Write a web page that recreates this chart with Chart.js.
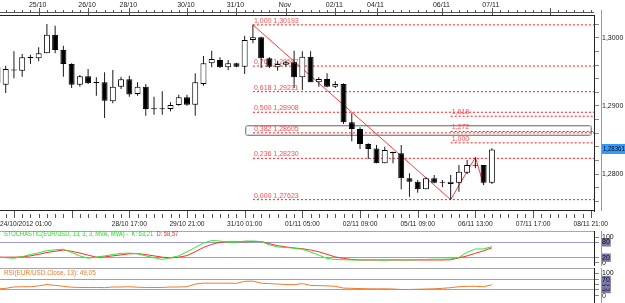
<!DOCTYPE html>
<html><head><meta charset="utf-8">
<script src="https://cdn.jsdelivr.net/npm/chart.js@4.4.0/dist/chart.umd.min.js"></script>
<style>
html,body{margin:0;padding:0;background:#fff;overflow:hidden;}
#wrap{position:relative;width:625px;height:303px;background:#fff;}
.cv{position:absolute;left:0;width:625px;}
</style></head><body>
<div id="wrap">
<div class="cv" style="top:0;height:230px"><canvas id="main"></canvas></div>
<div class="cv" style="top:230px;height:40px"><canvas id="stoch"></canvas></div>
<div class="cv" style="top:266px;height:37px"><canvas id="rsi"></canvas></div>
</div>
<script>
// ---------- DATA ----------
const candleIdx = [-1,0,1,2,3,4,5,6,7,8,9,10,11,12,13,14,15,16,17,18,19,20,21,22,23,24,25,26,27,28,29,
  30,31,32,33,34,35,36,37,38,39,40,41,42,43,44,45,46,47,48,49,50,51,52,53,54,55,56,57,58,59];
const opens = [1.29570,
 1.29313,1.29537,1.29519,1.29725,1.29701,1.29775,1.30049,1.29824,1.29618,1.29313,
 1.29437,1.29349,1.29349,1.29069,1.29284,1.29393,1.29176,1.29284,1.28956,1.28951,
 1.28956,1.29015,1.29128,1.29019,1.29324,1.29628,1.29676,1.29569,1.29628,1.29578,
 1.29971,1.30010,1.29701,1.29569,1.29607,1.29643,1.29422,1.29725,1.29349,1.29397,
 1.29284,1.29324,1.28760,1.28662,1.28441,1.28375,1.28157,1.28328,1.28304,1.27937,
 1.27887,1.27775,1.27937,1.27878,1.27853,1.27872,1.28019,1.28132,1.28132,1.27872];
const highs = [1.29868,
 1.29593,1.29804,1.29765,1.29754,1.29863,1.30206,1.30181,1.29887,1.29628,1.29456,
 1.29544,1.29422,1.29496,1.29529,1.29431,1.29446,1.29349,1.29324,1.29137,1.29216,
 1.29054,1.29166,1.29166,1.29481,1.29735,1.29813,1.29716,1.29676,1.29637,1.30034,
 1.30193,1.30019,1.29716,1.29666,1.29666,1.29813,1.29804,1.29804,1.29422,1.29481,
 1.29363,1.29334,1.28893,1.28687,1.28451,1.28426,1.28401,1.28328,1.28426,1.28010,
 1.27912,1.27951,1.27985,1.27912,1.27985,1.28132,1.28206,1.28246,1.28132,1.28378];
const lows = [1.29324,
 1.29191,1.29407,1.29431,1.29618,1.29657,1.29775,1.29775,1.29431,1.29265,1.29284,
 1.29324,1.29151,1.28824,1.29040,1.29250,1.29137,1.29151,1.28857,1.28872,1.28872,
 1.28922,1.29004,1.29004,1.28857,1.29299,1.29569,1.29559,1.29529,1.29569,1.29471,
 1.29922,1.29559,1.29559,1.29519,1.29578,1.29265,1.29235,1.29349,1.29284,1.29275,
 1.29265,1.28735,1.28481,1.28368,1.28221,1.28157,1.28157,1.28157,1.27775,1.27666,
 1.27725,1.27775,1.27863,1.27804,1.27623,1.27740,1.28000,1.28084,1.27838,1.27853];
const closes = [1.29340,
 1.29544,1.29522,1.29716,1.29701,1.29775,1.30049,1.29824,1.29618,1.29313,1.29437,
 1.29334,1.29338,1.29078,1.29284,1.29393,1.29169,1.29284,1.28956,1.28951,1.28956,
 1.29015,1.29128,1.29019,1.29349,1.29628,1.29691,1.29569,1.29628,1.29578,1.29971,
 1.30010,1.29701,1.29578,1.29618,1.29643,1.29422,1.29725,1.29349,1.29397,1.29284,
 1.29324,1.28760,1.28662,1.28441,1.28368,1.28157,1.28353,1.28304,1.27937,1.27887,
 1.27775,1.27937,1.27872,1.27872,1.27887,1.28034,1.28132,1.28122,1.27872,1.28361];

const stochK = [22,
 20,18,24,32,39,47,51,53,40,27,
 18,22,27,32,37,38,35,27,20,13,
 20,27,43,60,77,87,85,80,80,85,
 85,83,70,62,60,57,53,42,30,17,
 13,12,11,11,12,11,10,12,11,11,
 12,13,14,14,15,21,41,54,54,63.21];
const stochD = [22,
 22,22,23,27,33,40,45,50,45,38,
 30,22,23,27,31,35,36,32,27,22,
 19,22,28,43,60,72,80,82,82,82,
 83,83,75,67,62,58,55,50,43,33,
 23,17,13,11,11,11,11,11,11,11,
 11,11,11,11,12,19,27,37,47,58.57];
const rsi = [30,
 33,39,40,40,44,50,46,42,38,37,
 37,37,36,39,39,40,38,37,37,37,
 39,39,40,52,56,56,56,56,55,64,
 65,56,54,52,50,49,54,46,45,44,
 42,34,33,32,31,31,31,30,28,28,
 29,30,31,33,36,40,42,42,40,49.05];

// Fibonacci retracement
const fibStartIdx = 30;
const fibRatios = [1.000, 0.764, 0.618, 0.500, 0.382, 0.236, 0.000];
const fibPrices = [1.30193, 1.29587, 1.29211, 1.28908, 1.28605, 1.28230, 1.27623];
// Extension levels
const extStartIdx = 54;
const extRatios = [1.618, 1.272, 1.000];
const extPrices = [1.28850, 1.28625, 1.28458];
// zigzag
const zigIdx = [30, 54, 57, 58];
const zigPrices = [1.30193, 1.27623, 1.28246, 1.27838];
// selection box around the 0.382 level
const boxIdx = [29.05, 71.0];
const boxPrices = [1.28716, 1.28563];

// price axis
const yTickVals = [1.276,1.278,1.280,1.282,1.284,1.286,1.288,1.290,1.292,1.294,1.296,1.298,1.300,1.302];
const yLabelVals = [1.280, 1.290, 1.300];
const yLabels = ['1,2800', '1,2900', '1,3000'];
const lastPrice = 1.28361;
const lastPriceLabel = '1,28361';

// time axes
const topTickIdx = [4, 10, 15, 22, 28, 34, 40, 45, 53, 59, 66];
const topLabels = ['25/10','26/10','28/10','30/10','31/10','Nov','02/11','04/11','06/11','07/11',''];
const botTickIdx = [1, 8, 15, 22, 29, 36, 43, 50, 57, 64, 71];
const botLabels = ['24/10/2012 01:00','','28/10 17:00','29/10 21:00','31/10 01:00','01/11 05:00','02/11 09:00','05/11 09:00','06/11 13:00','07/11 17:00','08/11 21:00'];

const stochTicks = [0, 20, 80, 100];
const stochBoxed = [20, 80];
const rsiTicks = [0, 30, 50, 70, 100];
const rsiBoxed = [30, 50, 70];
const rsiLines = [30, 70];

// ---------- SETUP ----------
const FONT = 'Liberation Sans';
Chart.defaults.font.family = FONT;
Chart.defaults.font.size = 7;
Chart.defaults.color = '#222';
Chart.defaults.animation = false;
Chart.defaults.events = [];
Chart.defaults.plugins.legend.display = false;
Chart.defaults.plugins.tooltip.enabled = false;

const X_MIN = -0.692, X_MAX = 71.395;
const X_END = 72;
const xOpts = () => ({type:'linear', min:X_MIN, max:X_MAX, display:false, offset:false, grid:{offset:false}});
const fmt = (v, d) => v.toFixed(d).replace('.', ',');
// draw text horizontally condensed by factor sx, returns drawn width
function condensed(ctx, s, x, y, sx){
  ctx.save(); ctx.translate(x, y); ctx.scale(sx, 1); ctx.fillText(s, 0, 0); ctx.restore();
  return ctx.measureText(s).width * sx;
}

// ---------- MAIN ----------
const datasets = [];
datasets.push({
  type:'bar', label:'body', order:1,
  data: candleIdx.map((x,i)=>({x, y:[opens[i], closes[i]]})),
  backgroundColor: candleIdx.map((x,i)=> closes[i] >= opens[i] ? '#ffffff' : '#000000'),
  borderColor:'#000', borderWidth:1, borderSkipped:false, barThickness:6, grouped:false,
  inflateAmount:0, minBarLength:1
});
datasets.push({
  type:'bar', label:'wick', order:2,
  data: candleIdx.map((x,i)=>({x, y:[lows[i], highs[i]]})),
  backgroundColor:'#1a1a1a', borderWidth:0, barThickness:1, grouped:false, inflateAmount:0
});
fibPrices.forEach((p)=>{
  datasets.push({type:'line', order:5, data:[{x:fibStartIdx,y:p},{x:X_END,y:p}],
    borderColor:'#ff1a1a', borderWidth:1, borderDash:[2,2], pointRadius:0});
});
extPrices.forEach((p)=>{
  datasets.push({type:'line', order:5, data:[{x:extStartIdx,y:p},{x:X_END,y:p}],
    borderColor:'#ff1a1a', borderWidth:1, borderDash:[2,2], pointRadius:0});
});
datasets.push({type:'line', order:4, data: zigIdx.map((x,i)=>({x, y:zigPrices[i]})),
  borderColor:'rgba(255,40,40,0.9)', borderWidth:1, pointRadius:0, tension:0});

const mainDecor = {
  id:'mainDecor',
  beforeDatasetsDraw(chart){
    const {ctx, scales:{x, y}} = chart;
    ctx.save();
    // selection box
    const bx0 = x.getPixelForValue(boxIdx[0]), bx1 = x.getPixelForValue(boxIdx[1]);
    const by0 = y.getPixelForValue(boxPrices[0]), by1 = y.getPixelForValue(boxPrices[1]);
    ctx.lineWidth = 1;
    ctx.strokeStyle = '#8c8c8c';
    ctx.beginPath(); ctx.roundRect(Math.round(bx0)+0.5, Math.round(by0)+0.5, Math.round(bx1-bx0), Math.round(by1-by0), 2); ctx.stroke();
    ctx.strokeStyle = '#d4d4d4';
    ctx.beginPath(); ctx.rect(Math.round(bx0)+1.5, Math.round(by0)+1.5, Math.round(bx1-bx0)-2, Math.round(by1-by0)-2); ctx.stroke();
    // fib labels
    ctx.font = '7px ' + FONT;
    ctx.fillStyle = '#ff4d4d';
    ctx.textAlign = 'left'; ctx.textBaseline = 'alphabetic';
    const fx = x.getPixelForValue(fibStartIdx);
    fibPrices.forEach((p,i)=>{
      ctx.fillText(fmt(fibRatios[i],3) + ' ' + fmt(p,5), fx + 1, y.getPixelForValue(p) - 2);
    });
    const ex = x.getPixelForValue(extStartIdx);
    extPrices.forEach((p,i)=>{
      ctx.fillText(fmt(extRatios[i],3), ex + 1, y.getPixelForValue(p) - 2);
    });
    ctx.restore();
  },
  afterDraw(chart){
    const {ctx, chartArea:a, scales:{x, y}} = chart;
    ctx.save();
    ctx.lineWidth = 1;
    // frame
    ctx.strokeStyle = '#222';
    ctx.beginPath();
    ctx.moveTo(0, a.top + 0.5); ctx.lineTo(a.right + 0.5, a.top + 0.5);
    ctx.lineTo(a.right + 0.5, a.bottom - 0.5); ctx.lineTo(0, a.bottom - 0.5);
    ctx.stroke();
    // second axis line
    ctx.strokeStyle = '#9a9a9a';
    ctx.beginPath(); ctx.moveTo(601.5, 10); ctx.lineTo(601.5, a.bottom); ctx.stroke();
    // top time strip
    ctx.strokeStyle = '#555';
    ctx.beginPath(); ctx.moveTo(0, 12.5); ctx.lineTo(a.right, 12.5); ctx.stroke();
    ctx.beginPath();
    for (let i = Math.ceil(X_MIN); i <= Math.floor(X_MAX); i++) {
      const px = Math.round(x.getPixelForValue(i)) + 0.5;
      ctx.moveTo(px, 10); ctx.lineTo(px, 12.5);
    }
    ctx.stroke();
    ctx.beginPath();
    topTickIdx.forEach(t => { const px = Math.round(x.getPixelForValue(t)) + 0.5; ctx.moveTo(px, 8); ctx.lineTo(px, 15); });
    ctx.stroke();
    ctx.font = '7px ' + FONT; ctx.fillStyle = '#222'; ctx.textBaseline = 'middle'; ctx.textAlign = 'center';
    topTickIdx.forEach((t,i) => { if (topLabels[i]) ctx.fillText(topLabels[i], x.getPixelForValue(t) - 1, 5); });
    // bottom time strip
    ctx.strokeStyle = '#555';
    ctx.beginPath();
    for (let i = Math.ceil(X_MIN); i <= Math.floor(X_MAX); i++) {
      const px = Math.round(x.getPixelForValue(i)) + 0.5;
      ctx.moveTo(px, 214); ctx.lineTo(px, 218);
    }
    botTickIdx.forEach(t => { const px = Math.round(x.getPixelForValue(t)) + 0.5; ctx.moveTo(px, 211); ctx.lineTo(px, 218); });
    ctx.stroke();
    ctx.textAlign = 'left';
    const bsx = 0.95;
    botTickIdx.forEach((t,i) => {
      const s = botLabels[i]; if (!s) return;
      const w = ctx.measureText(s).width * bsx;
      const px = Math.max(0, x.getPixelForValue(t) - w/2);
      condensed(ctx, s, px, 224, bsx);
    });
    // last price label
    const py = y.getPixelForValue(lastPrice);
    ctx.fillStyle = '#3399ff';
    ctx.fillRect(602, Math.round(py) - 5, 23, 10);
    ctx.fillStyle = '#111'; ctx.textAlign = 'left'; ctx.textBaseline = 'middle';
    condensed(ctx, lastPriceLabel, 603, Math.round(py), 0.86);
    ctx.restore();
  }
};

new Chart(document.getElementById('main'), {
  type:'bar',
  data:{datasets},
  options:{
    responsive:true, maintainAspectRatio:false,
    layout:{padding:{top:15, bottom:19, left:0, right:0}},
    scales:{
      x: xOpts(),
      y: {
        position:'right', min:1.274559, max:1.303382,
        afterFit: a => { a.width = 31; },
        afterBuildTicks: a => { a.ticks = yTickVals.map(v => ({value:v})); },
        ticks:{ padding:3, color:'#222', font:{size:7}, autoSkip:false,
          callback: v => { const k = yLabelVals.findIndex(t => Math.abs(t - v) < 1e-7); return k >= 0 ? yLabels[k] : ''; } },
        grid:{ drawOnChartArea:false, tickLength:5, color:'#888' },
        border:{ color:'#222' }
      }
    }
  },
  plugins:[mainDecor]
});

// ---------- INDICATOR PANELS ----------
function panelPlugin(titleParts, frameTop, frameBottom, titleY, sx) {
  return {
    id:'panel',
    afterDraw(chart){
      const {ctx, chartArea:a} = chart;
      ctx.save();
      ctx.lineWidth = 1;
      ctx.strokeStyle = '#a8a8a8';
      ctx.beginPath(); ctx.moveTo(0, frameTop + 0.5); ctx.lineTo(a.right, frameTop + 0.5); ctx.stroke();
      ctx.strokeStyle = '#222';
      ctx.beginPath(); ctx.moveTo(a.right + 0.5, frameTop); ctx.lineTo(a.right + 0.5, frameBottom); ctx.stroke();
      ctx.strokeStyle = '#9a9a9a';
      ctx.beginPath(); ctx.moveTo(601.5, frameTop); ctx.lineTo(601.5, frameBottom); ctx.stroke();
      ctx.font = '7px ' + FONT; ctx.textBaseline = 'middle'; ctx.textAlign = 'left';
      let tx = 4;
      titleParts.forEach(([s, c]) => { ctx.fillStyle = c; tx += condensed(ctx, s, tx, titleY, sx); });
      ctx.restore();
    }
  };
}

const lineDs = (vals, color) => ({ data: candleIdx.map((x,i)=>({x, y:vals[i]})), borderColor:color, borderWidth:1, pointRadius:0, tension:0 });

const stochTitle = [
  ['STOCHASTIC(EUR/USD, 13, 3, 3, MVA, MVA) -  K: ' + fmt(stochK[stochK.length-1], 2) + '  ', '#22dd22'],
  ['D: ' + fmt(stochD[stochD.length-1], 2), '#ff2a2a']
];
const boxedTicks = (list) => ({
  padding:3, color:'#111', font:{size:7}, autoSkip:false,
  showLabelBackdrop: c => !!(c.tick && list.includes(c.tick.value)),
  backdropColor:'#7a7aa8', backdropPadding:{top:0,bottom:0,left:1,right:1}
});
new Chart(document.getElementById('stoch'), {
  type:'line',
  data:{datasets:[ lineDs(stochK, '#2ee82e'), lineDs(stochD, '#ff2a2a') ]},
  options:{
    responsive:true, maintainAspectRatio:false,
    layout:{padding:{top:3, bottom:4, left:0, right:0}},
    scales:{
      x: xOpts(),
      y:{ position:'right', min:0, max:100,
        afterFit: a => { a.width = 31; },
        afterBuildTicks: a => { a.ticks = stochTicks.map(v => ({value:v})); },
        ticks: boxedTicks(stochBoxed),
        grid:{ drawTicks:true, tickLength:5, color: c => (c.tick && stochBoxed.includes(c.tick.value)) ? '#9c9cd0' : 'rgba(0,0,0,0)', tickColor:'#888' },
        border:{ color:'#222' }
      }
    }
  },
  plugins:[panelPlugin(stochTitle, 1, 36, 4.5, 0.83)]
});

const rsiTitle = [['RSI(EUR/USD.Close, 13): ' + fmt(rsi[rsi.length-1], 2), '#f07a2a']];
new Chart(document.getElementById('rsi'), {
  type:'line',
  data:{datasets:[ lineDs(rsi, '#f07a2a') ]},
  options:{
    responsive:true, maintainAspectRatio:false,
    layout:{padding:{top:5, bottom:2, left:0, right:0}},
    scales:{
      x: xOpts(),
      y:{ position:'right', min:0, max:100,
        afterFit: a => { a.width = 31; },
        afterBuildTicks: a => { a.ticks = rsiTicks.map(v => ({value:v})); },
        ticks: boxedTicks(rsiBoxed),
        grid:{ drawTicks:true, tickLength:5, color: c => (c.tick && rsiLines.includes(c.tick.value)) ? '#9c9cd0' : 'rgba(0,0,0,0)', tickColor:'#888' },
        border:{ color:'#222' }
      }
    }
  },
  plugins:[panelPlugin(rsiTitle, 2, 37, 7, 0.91)]
});
</script>
</body></html>
